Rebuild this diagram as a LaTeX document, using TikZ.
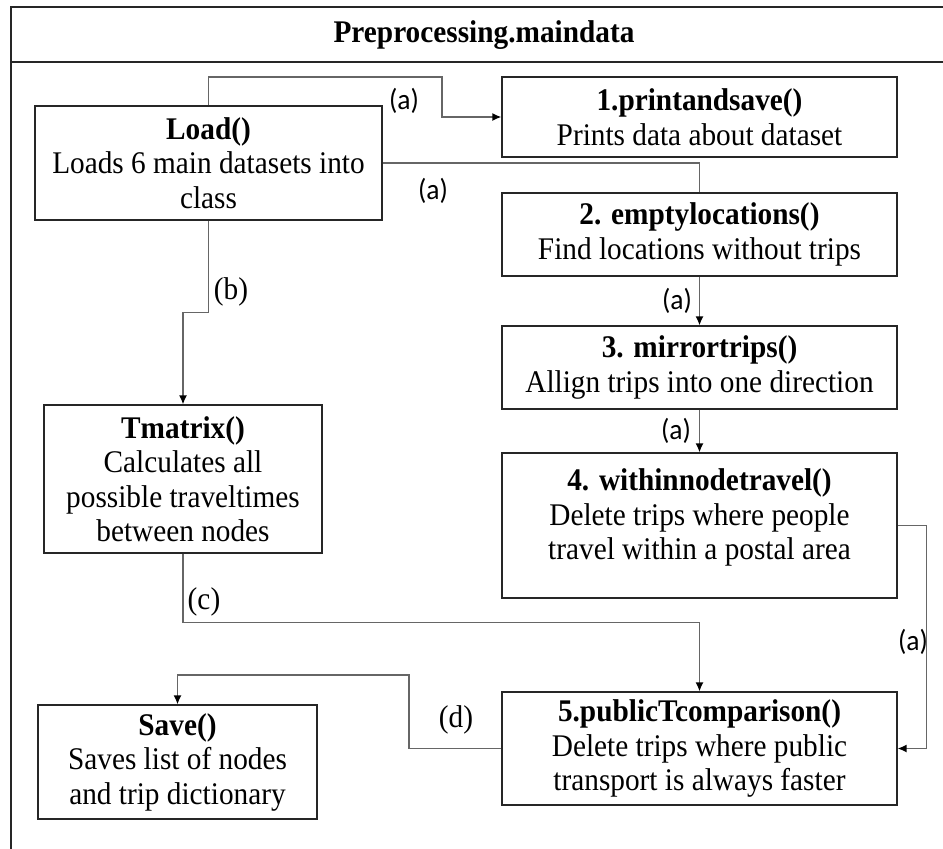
\documentclass[tikz,border=0pt]{standalone}
\usepackage{fontspec}
\setmainfont[FakeStretch=0.93]{Liberation Serif}
\newfontfamily\tagfont[FakeStretch=0.95]{Carlito}
\usetikzlibrary{arrows.meta}

\begin{document}
\begin{tikzpicture}[x=1pt,y=-1pt,font=\fontsize{31.5}{34.5}\selectfont,>={Latex[length=9pt,width=8pt,color=black]}]
        \tikzstyle{func} = [draw=black!85,line width=1.2pt,align=center,inner sep=0pt]
        \tikzstyle{flow} = [draw=black!60,line width=1.5pt]
        \tikzstyle{tag} = [inner sep=0pt,font=\tagfont\fontsize{29}{33}\selectfont]

        \useasboundingbox (0,0) rectangle (943,849);

        % frame
        \draw[black!85,line width=1.3pt] (11,849) -- (11,7) -- (943,7);
        \draw[black!85,line width=1.3pt] (11,62) -- (943,62);
        \node (title) at (484,35) {\textbf{Preprocessing.maindata}};


        \node[func,minimum width=347pt,minimum height=114pt] (load) at (208.5,163) {\textbf{Load()}\\Loads 6 main datasets into\\class};
        \node[func,minimum width=278pt,minimum height=148pt] (tmat) at (183,479) {\textbf{Tmatrix()}\\Calculates all\\possible traveltimes\\between nodes};
        \node[func,minimum width=279pt,minimum height=114pt] (save) at (177.5,762) {\textbf{Save()}\\Saves list of nodes\\and trip dictionary};


        \node[func,minimum width=395pt,minimum height=80pt] (print) at (699.5,117) {\textbf{1.printandsave()}\\Prints data about dataset};
        \node[func,minimum width=395pt,minimum height=83pt] (empty) at (699.5,234.5) {\textbf{2. emptylocations()}\\Find locations without trips};
        \node[func,minimum width=395pt,minimum height=83pt] (mirror) at (699.5,367.5) {\textbf{3. mirrortrips()}\\Allign trips into one direction};
        \node[func,minimum width=395pt,minimum height=145pt] (within) at (699.5,525.5) {\textbf{4. withinnodetravel()}\\Delete trips where people\\travel within a postal area\\[-12pt]\mbox{}};
        \node[func,minimum width=395pt,minimum height=113pt] (pub) at (699.5,748.5) {\textbf{5.publicTcomparison()}\\Delete trips where public\\transport is always faster};


        \coordinate (a1) at (442,77);
        \coordinate (d1) at (409,675);


        \draw[flow,->] (load.north) |- (a1) |- (print.west);
        \draw[flow] (load.east) -| (empty.north);
        \draw[flow,->] (empty) -- (mirror);
        \draw[flow,->] (mirror) -- (within);
        \draw[flow,->] (within.east) -- ++(29,0) |- (pub.east);


        \draw[flow,->] (load.south) -- ++(0,92) -| (tmat.north);
        \draw[flow,->] (tmat.south) -- ++(0,69) -| (pub.north);
        \draw[flow,->] (pub.west) -| (d1) -| (save.north);


        \node[tag] (la1) at (404,101) {(a)};
        \node[tag] (la2) at (433,191) {(a)};
        \node[tag] (la3) at (677,301) {(a)};
        \node[tag] (la4) at (676,431) {(a)};
        \node[tag] (la5) at (913,642) {(a)};
        \node[inner sep=0pt] (lb) at (231,292) {(b)};
        \node[inner sep=0pt] (lc) at (204,602) {(c)};
        \node[inner sep=0pt] (ld) at (456,720) {(d)};

\end{tikzpicture}
\end{document}
